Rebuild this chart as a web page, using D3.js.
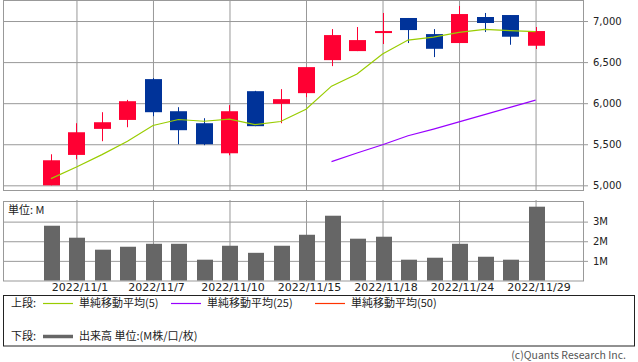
<!DOCTYPE html>
<html>
<head>
<meta charset="utf-8">
<script src="https://cdn.jsdelivr.net/npm/d3@7"></script>
<style>
  body { margin: 0; background: #fff; }
  svg { display: block; }
</style>
</head>
<body>
<div id="chart"></div>
<script>
// daily candles, 2022/10/31 - 2022/11/29
const dates = ["2022/10/31", "2022/11/1", "2022/11/2", "2022/11/4", "2022/11/7", "2022/11/8",
  "2022/11/9", "2022/11/10", "2022/11/11", "2022/11/14", "2022/11/15", "2022/11/16",
  "2022/11/17", "2022/11/18", "2022/11/21", "2022/11/22", "2022/11/24", "2022/11/25",
  "2022/11/28", "2022/11/29"];
const open  = [5000, 5370, 5687, 5796, 6293, 5902, 5756, 5390, 6146, 5992, 6122, 6524, 6634, 6854, 7037, 6841, 6732, 7049, 7073, 6699];
const close = [5305, 5646, 5768, 6024, 5890, 5671, 5500, 5902, 5720, 6049, 6439, 6829, 6768, 6878, 6890, 6662, 7085, 6976, 6809, 6878];
const high  = [5378, 5756, 5890, 6040, 6305, 5951, 5817, 5976, 6150, 6171, 6439, 6902, 6927, 7098, 7037, 6902, 7183, 7098, 7073, 6927];
const low   = [5000, 5317, 5537, 5707, 5841, 5500, 5488, 5366, 5720, 5756, 6073, 6451, 6634, 6720, 6732, 6561, 6732, 6866, 6711, 6659];
const ma5   = [5082, 5223, 5374, 5537, 5728, 5801, 5780, 5805, 5740, 5777, 5927, 6207, 6354, 6598, 6768, 6805, 6862, 6899, 6882, 6870];
const ma25  = [null, null, null, null, null, null, null, null, null, null, null, 5289, 5393, 5494, 5604, 5685, 5772, 5861, 5949, 6037];
const volume = [2.79, 2.18, 1.57, 1.72, 1.87, 1.87, 1.06, 1.77, 1.41, 1.77, 2.33, 3.30, 2.13, 2.23, 1.06, 1.16, 1.87, 1.21, 1.06, 3.76]; // M

const dateTicks = [1, 4, 7, 10, 13, 16, 19];
const priceTicks = [5000, 5500, 6000, 6500, 7000];
const volTicks = [1, 2, 3];

const width = 638;
const height = 362;
const left = 3, right = 583;
const top1 = 0, bottom1 = 190;
const top2 = 201, bottom2 = 280.5;

const svg = d3.select('#chart')
  .append('svg')
  .attr('width', width)
  .attr('height', height);

const x = d3.scaleLinear()
  .domain([-1.88, 20.86])
  .range([left, right]);

const y = d3.scaleLinear()
  .domain([4943, 7256])
  .range([bottom1, top1]);

const yv = d3.scaleLinear()
  .domain([0, 4.05])
  .range([bottom2, top2]);

const grid = '#999';
const idx = d3.range(dates.length);

// ---- top panel grid / axes
svg.append('g')
  .attr('transform', `translate(${right + 5},0)`)
  .call(d3.axisRight(y).tickValues(priceTicks).tickSize(-(right - left + 5)).tickPadding(5)
    .tickFormat(d3.format(',')))
  .call(g => g.select('.domain').remove())
  .call(g => g.selectAll('line').attr('stroke', grid))
  .call(g => g.selectAll('text').attr('font-family', 'DejaVu Sans').attr('font-size', 10).attr('fill', '#222'));

svg.append('g')
  .attr('transform', `translate(0,${bottom1})`)
  .call(d3.axisBottom(x).tickValues(dateTicks).tickSize(-(bottom1 - top1)).tickFormat(''))
  .call(g => g.select('.domain').remove())
  .call(g => g.selectAll('line').attr('stroke', grid));

svg.append('rect')
  .attr('x', left + 0.5).attr('y', top1 + 0.5)
  .attr('width', right - left).attr('height', bottom1 - top1)
  .attr('fill', 'none').attr('stroke', grid);

// ---- candles
const candles = svg.append('g');
candles.selectAll('line')
  .data(idx)
  .join('line')
  .attr('x1', i => Math.round(x(i)) + 0.5)
  .attr('x2', i => Math.round(x(i)) + 0.5)
  .attr('y1', i => y(high[i]))
  .attr('y2', i => y(low[i]))
  .attr('stroke', i => close[i] >= open[i] ? '#ff0033' : '#003399');

candles.selectAll('rect')
  .data(idx)
  .join('rect')
  .attr('x', i => Math.round(x(i)) - 8)
  .attr('width', 17)
  .attr('y', i => y(Math.max(open[i], close[i])))
  .attr('height', i => Math.max(2, Math.abs(y(open[i]) - y(close[i]))))
  .attr('fill', i => close[i] >= open[i] ? '#ff0033' : '#003399');

// ---- moving averages
const line = arr => d3.line()
  .defined(i => arr[i] != null)
  .x(i => x(i))
  .y(i => y(arr[i]))(idx);

svg.append('path').attr('d', line(ma5))
  .attr('fill', 'none').attr('stroke', '#99cc00').attr('stroke-width', 1.2);
svg.append('path').attr('d', line(ma25))
  .attr('fill', 'none').attr('stroke', '#9900ff').attr('stroke-width', 1.2);

// ---- volume panel
svg.append('g')
  .attr('transform', `translate(${right + 5},0)`)
  .call(d3.axisRight(yv).tickValues(volTicks).tickSize(-(right - left + 5)).tickPadding(5)
    .tickFormat(d => d + 'M'))
  .call(g => g.select('.domain').remove())
  .call(g => g.selectAll('line').attr('stroke', grid))
  .call(g => g.selectAll('text').attr('font-family', 'DejaVu Sans').attr('font-size', 10).attr('fill', '#222'));

svg.append('g')
  .attr('transform', `translate(0,${bottom2})`)
  .call(d3.axisBottom(x).tickValues(dateTicks).tickSize(-(bottom2 - top2 + 1)).tickPadding(3)
    .tickFormat(i => dates[i]))
  .call(g => g.select('.domain').remove())
  .call(g => g.selectAll('line').attr('stroke', grid))
  .call(g => g.selectAll('text').attr('x', 3).attr('font-family', 'DejaVu Sans').attr('font-size', 11).attr('fill', '#222'));

svg.append('rect')
  .attr('x', left + 0.5).attr('y', top2 + 0.5)
  .attr('width', right - left).attr('height', bottom2 - top2)
  .attr('fill', 'none').attr('stroke', grid);

svg.append('g')
  .selectAll('rect')
  .data(idx)
  .join('rect')
  .attr('x', i => Math.round(x(i)) - 7)
  .attr('width', 16)
  .attr('y', i => yv(volume[i]))
  .attr('height', i => yv(0) - yv(volume[i]))
  .attr('fill', '#666666');

svg.append('text')
  .attr('x', 8).attr('y', 214)
  .attr('font-family', 'Noto Sans CJK JP').attr('font-size', 11).attr('fill', '#222')
  .text('単位: M');

// ---- legend
const lg = svg.append('g').attr('font-family', 'Noto Sans CJK JP').attr('font-size', 11).attr('fill', '#222');
lg.append('rect')
  .attr('x', 3.5).attr('y', 295.5).attr('width', 631).attr('height', 50.5)
  .attr('fill', 'none').attr('stroke', '#222');

const row1 = 303.5, row2 = 336.5;
lg.append('text').attr('x', 11).attr('y', row1).attr('dy', '0.35em').text('上段:');
const items = [
  {x: 43, color: '#99cc00', label: '単純移動平均(5)'},
  {x: 171, color: '#9900ff', label: '単純移動平均(25)'},
  {x: 315, color: '#ff3300', label: '単純移動平均(50)'}
];
items.forEach(d => {
  lg.append('line').attr('x1', d.x).attr('x2', d.x + 30).attr('y1', row1).attr('y2', row1)
    .attr('stroke', d.color).attr('stroke-width', 1.2);
  lg.append('text').attr('x', d.x + 36).attr('y', row1).attr('dy', '0.35em').text(d.label);
});

lg.append('text').attr('x', 11).attr('y', row2).attr('dy', '0.35em').text('下段:');
lg.append('line').attr('x1', 43).attr('x2', 73).attr('y1', row2).attr('y2', row2)
  .attr('stroke', '#666').attr('stroke-width', 3.5);
lg.append('text').attr('x', 79).attr('y', row2).attr('dy', '0.35em').text('出来高 単位:(M株/口/枚)');

svg.append('text')
  .attr('x', 626).attr('y', 355.5).attr('dy', '0.35em')
  .attr('text-anchor', 'end')
  .attr('font-family', 'Noto Sans CJK JP').attr('font-size', 10.5).attr('fill', '#555')
  .text('(c)Quants Research Inc.');
</script>
</body>
</html>
